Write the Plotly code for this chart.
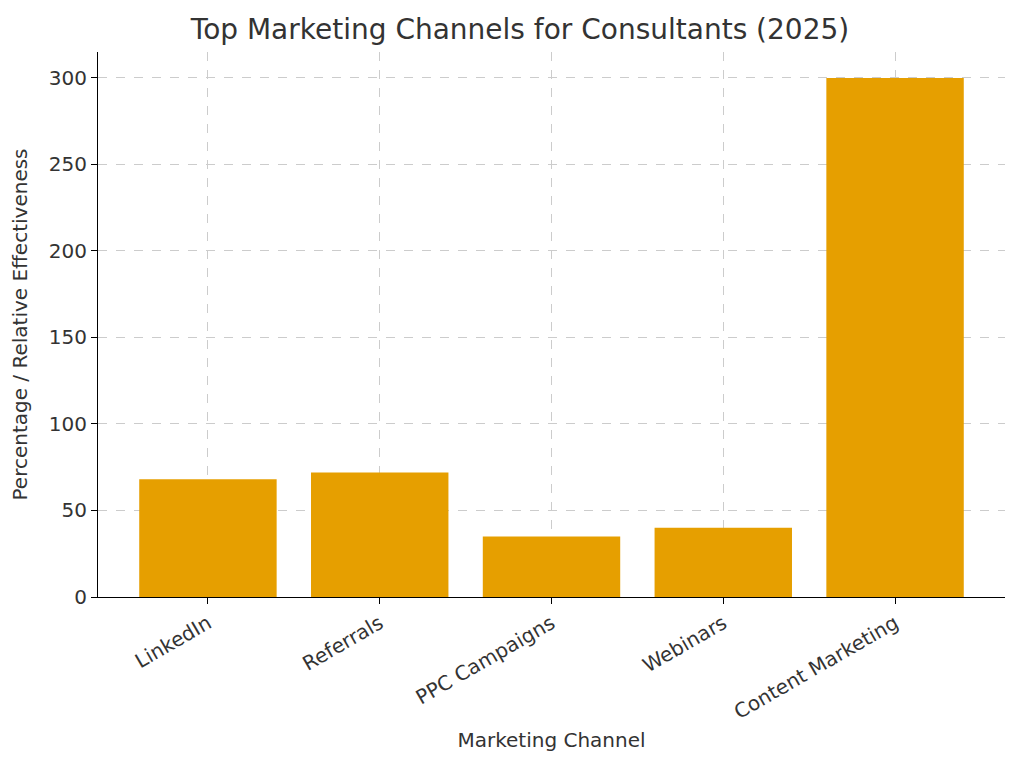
import plotly.graph_objs as go

channels = ['LinkedIn', 'Referrals', 'PPC Campaigns', 'Webinars', 'Content Marketing']
values = [68, 72, 35, 40, 300]
y_ticks = [0, 50, 100, 150, 200, 250, 300]

trace = go.Bar(x=channels, y=values, width=0.8,
               marker=dict(color='#E69F00', line=dict(width=0)))

layout = go.Layout(
    title=dict(text='Top Marketing Channels for Consultants (2025)', x=0.5, xanchor='center',
               y=0.985, yanchor='top', font=dict(size=28, color='#333333')),
    font=dict(family='DejaVu Sans', color='#333333'),
    width=1024, height=768,
    margin=dict(l=87, r=27, t=44, b=179),
    plot_bgcolor='white', paper_bgcolor='white',
    showlegend=False,
    xaxis=dict(
        title=dict(text='Marketing Channel', font=dict(size=20), standoff=10),
        range=[-0.64, 4.64], tickangle=-30, tickfont=dict(size=20),
        showline=True, linecolor='black', linewidth=1.2,
        ticks='outside', ticklen=6, tickcolor='black',
        showgrid=True, gridcolor='#cccccc', griddash='dash', gridwidth=1,
    ),
    yaxis=dict(
        title=dict(text='Percentage / Relative Effectiveness', font=dict(size=20)),
        range=[0, 315], tickvals=y_ticks, tickfont=dict(size=20),
        showline=True, linecolor='black', linewidth=1.2,
        ticks='outside', ticklen=6, tickcolor='black',
        showgrid=True, gridcolor='#cccccc', griddash='dash', gridwidth=1,
        zeroline=False,
    ),
)

fig = go.Figure(data=[trace], layout=layout)
fig.write_html('out.html')
